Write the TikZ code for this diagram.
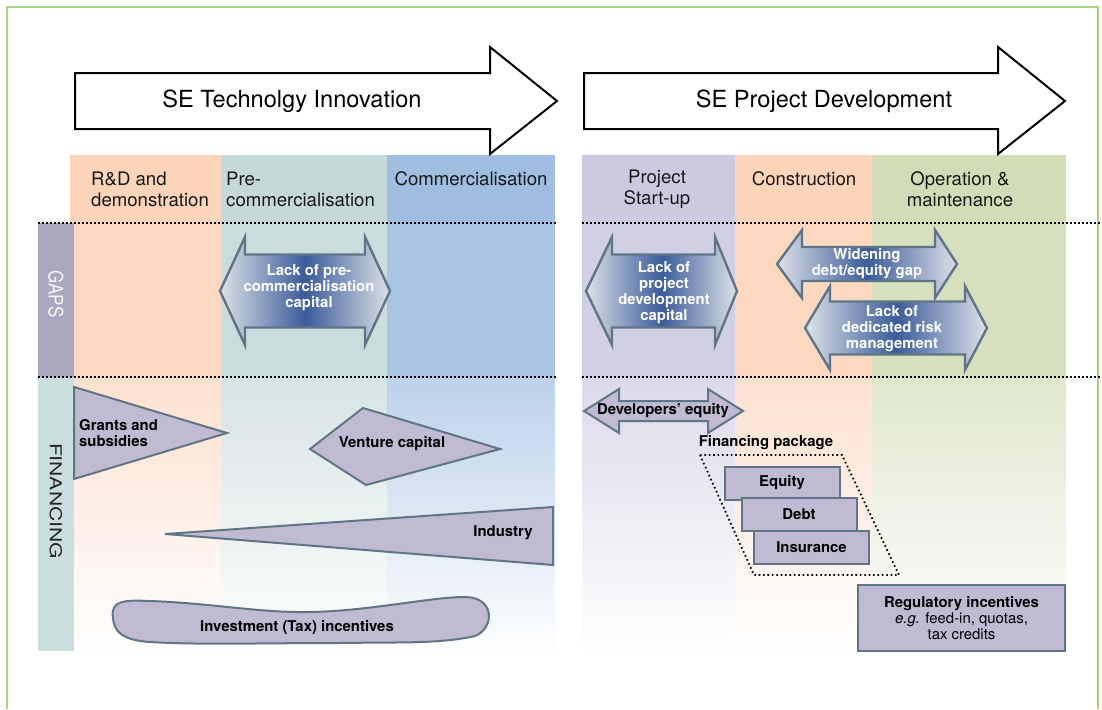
\documentclass[tikz,border=0pt]{standalone}
\usepackage{fontspec}
\setmainfont{TeX Gyre Heros}
\usetikzlibrary{positioning}

\definecolor{framecol}{HTML}{A8D381}
\definecolor{rdcol}{HTML}{FBD4BA}
\definecolor{precol}{HTML}{C4D9D8}
\definecolor{comcol}{HTML}{9FBEE0}
\definecolor{startcol}{HTML}{CCCAE0}
\definecolor{conscol}{HTML}{FCD4BA}
\definecolor{opcol}{HTML}{D2DDB7}
\definecolor{gapbar}{HTML}{A9A8BF}
\definecolor{finbar}{HTML}{CADFDD}
\definecolor{finfill}{HTML}{C0BAD3}
\definecolor{edgecol}{HTML}{607687}
\definecolor{gapend}{HTML}{DCE2E8}
\definecolor{gapmid}{HTML}{3B5B9A}

\tikzset{
colhead/.style={font=\fontsize{18.6}{21}\selectfont, text=black!90, inner sep=0pt},
bigarrow/.style={draw=black, line width=2pt, fill=white, line join=miter},
gaparrow/.style={draw=edgecol, line width=2.4pt,
  left color=gapend, right color=gapend, middle color=gapmid},
gaptext/.style={text=white, font=\bfseries\fontsize{14.9}{16}\selectfont,
  align=center, inner sep=0pt},
finshape/.style={draw=edgecol, line width=2pt, fill=finfill},
fintext/.style={font=\bfseries\fontsize{14.9}{16}\selectfont,
  align=center, inner sep=0pt},
finbox/.style={finshape, rectangle, fintext, minimum width=115pt, minimum height=33pt},
zoneline/.style={line width=1.5pt, dash pattern=on 1.5pt off 2.5pt}
}

% one stage column: header, gaps band, fading financing band
\newcommand{\stagecol}[3]{
  \fill[#3] (#1,155) rectangle (#2,223);
  \fill[#3!90] (#1,223) rectangle (#2,377);
  \shade[top color=#3!70, bottom color=white] (#1,377) rectangle (#2,656);
}
% double arrow: left tip, left head base, right head base, right tip, mid y, half body, half head
\newcommand{\dblarrow}[8][]{
  \path[#1] (#2,#6) -- (#3,{#6-#8}) -- (#3,{#6-#7}) -- (#4,{#6-#7}) -- (#4,{#6-#8})
    -- (#5,#6) -- (#4,{#6+#8}) -- (#4,{#6+#7}) -- (#3,{#6+#7}) -- (#3,{#6+#8}) -- cycle;
}

\begin{document}
\begin{tikzpicture}[x=1pt,y=-1pt]
\useasboundingbox (0,0) rectangle (1102,709);
\draw[framecol, line width=1.5pt] (7,709) -- (7,7) -- (1098,7) -- (1098,709);

% stage columns
\stagecol{70}{221}{rdcol}
\stagecol{221}{387}{precol}
\stagecol{387}{555}{comcol}
\stagecol{582}{735}{startcol}
\stagecol{735}{872}{conscol}
\stagecol{872}{1066}{opcol}

% side bars
\fill[gapbar] (38,223) rectangle (74,377);
\fill[finbar] (38,377) rectangle (74,651);
\node[rotate=-90, text=white!92!gapbar, font=\fontsize{20}{20}\selectfont] (gapslabel) at (56,294) {\scalebox{0.85}[1]{GAPS}};
\node[rotate=-90, text=black!85, font=\fontsize{16.5}{16.5}\selectfont] (finlabel) at (56,501) {\scalebox{1.28}[1]{FINANCING}};

\draw[zoneline] (38,223) -- (556,223);
\draw[zoneline] (582,223) -- (1100,223);
\draw[zoneline] (38,377) -- (556,377);
\draw[zoneline] (582,377) -- (1100,377);

% phase arrows
\draw[bigarrow] (75,73) -- (490,73) -- (490,47) -- (557,101) -- (490,154) -- (490,129) -- (75,129) -- cycle;
\draw[bigarrow] (584,73) -- (998,73) -- (998,47) -- (1065,101) -- (998,154) -- (998,129) -- (584,129) -- cycle;
\node[font=\fontsize{23.6}{24}\selectfont] (techlabel) at (292,101) {SE Technolgy Innovation};
\node[font=\fontsize{23.6}{24}\selectfont] (projlabel) at (824,101) {SE Project Development};

% stage headers
\node[colhead, anchor=west, align=left] (rdhead) at (91,189.5) {R\&D and\\demonstration};
\node[colhead, anchor=west, align=left] (prehead) at (226,189.5) {Pre-\\commercialisation};
\node[colhead] (comhead) at (471,179) {Commercialisation};
\node[colhead, align=center] (starthead) at (657,189.5) {Project\\Start-up};
\node[colhead] (conshead) at (804,179) {Construction};
\node[colhead, align=center] (ophead) at (960,189.5) {Operation \&\\maintenance};

% gaps
\dblarrow[gaparrow]{220}{245}{365}{390}{291}{36.5}{54}
\dblarrow[gaparrow]{586}{612}{715}{737}{291}{36.5}{54}
\dblarrow[gaparrow]{777}{802}{935}{957}{264}{17}{34}
\dblarrow[gaparrow]{805}{830}{965}{987}{328}{26.5}{42}
\node[gaptext] (gapprecomm) at (309,288) {Lack of pre-\\commercialisation\\capital};
\node[gaptext] (gapdevcap) at (664,293) {Lack of\\project\\development\\capital};
\node[gaptext] (gapdebt) at (867,264) {Widening\\debt/equity gap};
\node[gaptext] (gaprisk) at (892,329) {Lack of\\dedicated risk\\management};

% financing instruments
\draw[finshape] (74,387) -- (227,433) -- (74,479) -- cycle;
\draw[finshape] (310,449) -- (363,408) -- (500,449) -- (366,485) -- cycle;
\draw[finshape] (165,534) -- (553,507) -- (553,565) -- cycle;
\draw[finshape] (113,618) .. controls (110,600) and (125,600) .. (150,601)
  .. controls (210,603) and (260,613) .. (310,612)
  .. controls (370,611) and (430,597) .. (465,597)
  .. controls (495,597) and (495,628) .. (475,636)
  .. controls (440,644) and (400,642) .. (340,643)
  .. controls (260,643) and (200,645) .. (150,642)
  .. controls (120,640) and (114,630) .. (113,618) -- cycle;
\node[fintext, anchor=west, align=left] (grants) at (79,433) {Grants and\\subsidies};
\node[fintext] (venture) at (392,444) {Venture capital};
\node[fintext] (industry) at (503,533) {Industry};
\node[fintext] (invest) at (297,627) {Investment (Tax) incentives};

\dblarrow[finshape]{584}{619}{708}{743}{411}{10}{22}
\node[fintext] (devequity) at (663,411) {Developers' equity};

\node[fintext] (finpackage) at (766,443) {Financing package};
\draw[line width=1.8pt, dash pattern=on 1.6pt off 2.8pt] (700,455) -- (842,455) -- (899,575) -- (754,575) -- cycle;
\node[finbox] (equity) at (782,483) {Equity};
\node[finbox] (debt) at (799,514.5) {Debt};
\node[finbox] (insurance) at (811.5,547) {Insurance};

\node[finshape, line width=2.4pt, minimum width=207pt, minimum height=66pt, inner sep=0pt,
  align=center, font=\fontsize{14.9}{16}\selectfont] (regulatory) at (961.5,618)
  {\textbf{Regulatory incentives}\\\textit{e.g.} feed-in, quotas,\\tax credits};
\end{tikzpicture}
\end{document}
